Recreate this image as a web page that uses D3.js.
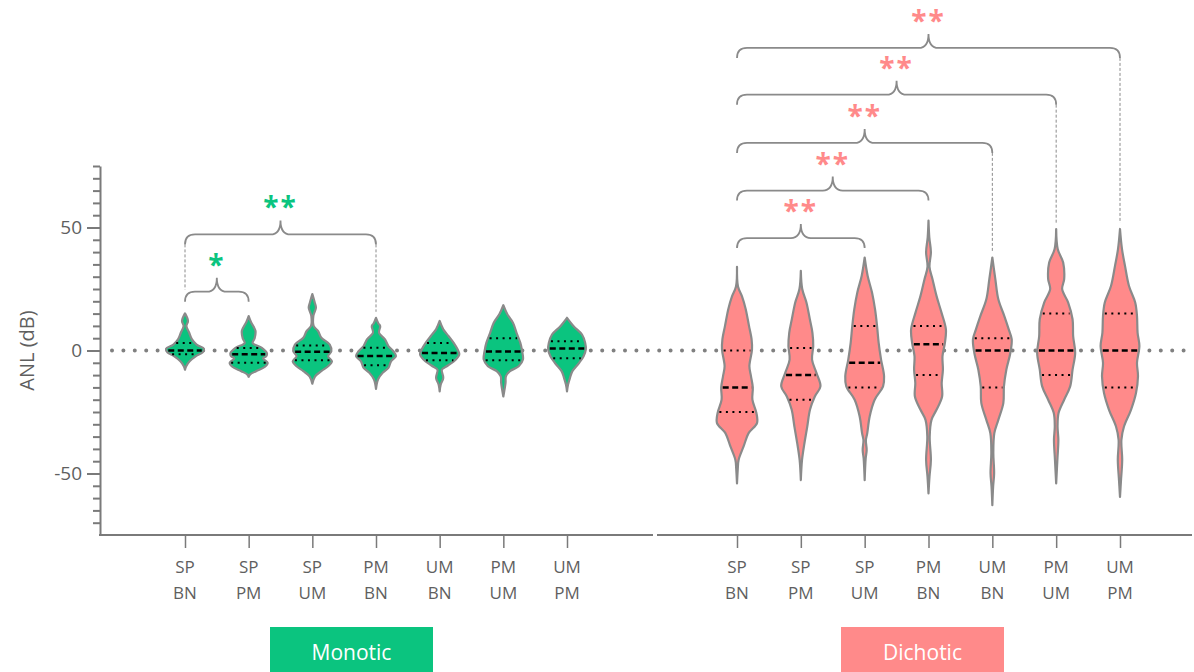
<!DOCTYPE html>
<html>
<head>
<meta charset="utf-8">
<script src="https://cdn.jsdelivr.net/npm/d3@7"></script>
<style>
  body { margin: 0; background: #fff; }
  svg { display: block; font-family: "Open Sans", sans-serif; }
</style>
</head>
<body>
<svg id="chart" width="1194" height="672"></svg>
<script>
// categories (two-line tick labels)
var categories = ["SP BN", "SP PM", "SP UM", "PM BN", "UM BN", "PM UM", "UM PM"];

// violin profiles: [ANL value (dB), relative density]
var monoticProfiles = [
  [[15.1,0],[12,0.15],[9.9,0.07],[7.2,0.21],[4.5,0.35],[2.4,0.58],[0.7,0.95],[-0.8,0.87],[-2.3,0.55],[-4.4,0.23],[-6.4,0.06],[-7.8,0]],
  [[14,0],[11.5,0.12],[8,0.34],[5,0.3],[3,0.2],[1.1,0.66],[-1,0.91],[-2.3,0.88],[-3.3,0.72],[-5,0.95],[-6.7,0.8],[-8.4,0.37],[-9.8,0.06],[-10.7,0]],
  [[22.9,0],[19.5,0.12],[17.4,0.18],[15.4,0.1],[14,0.05],[9.9,0.07],[7.9,0.29],[5.2,0.45],[2.4,0.87],[-0.3,0.95],[-2.3,0.79],[-4.4,0.98],[-6.4,0.79],[-8.4,0.45],[-10.5,0.14],[-13.5,0]],
  [[13.3,0],[11,0.12],[9.9,0.21],[7.2,0.15],[4.5,0.45],[1.8,0.62],[-0.3,0.87],[-2.3,1.0],[-4.4,0.75],[-7.1,0.62],[-9.1,0.33],[-11.8,0.1],[-15.6,0]],
  [[12,0],[8.6,0.18],[5.8,0.45],[3.1,0.7],[0.4,0.9],[-1.6,0.98],[-3.7,0.81],[-6.1,0.41],[-7.8,0.11],[-11.1,0.18],[-13.9,0.05],[-16.6,0]],
  [[18.4,0],[14.7,0.2],[11.3,0.48],[7.2,0.66],[3.1,0.85],[-0.3,0.94],[-3.7,0.98],[-6.4,0.77],[-8.4,0.33],[-10.5,0.13],[-13.2,0.11],[-18.7,0]],
  [[13.3,0],[9.9,0.33],[6.5,0.75],[3.1,0.91],[0.4,0.94],[-2.3,0.83],[-5,0.61],[-8.4,0.27],[-11.1,0.15],[-13.9,0.05],[-16.6,0]]
];
var dichoticProfiles = [
  [[34,0],[26,0.05],[22,0.25],[17,0.43],[10,0.6],[4.5,0.73],[0.4,0.75],[-6.4,0.62],[-10.5,0.7],[-15,0.79],[-20,0.77],[-25.4,0.97],[-29.5,1.0],[-33.6,0.58],[-39,0.33],[-44.5,0.08],[-48,0.04],[-54,0]],
  [[32.4,0],[25,0.07],[19.5,0.28],[12.7,0.45],[7.2,0.58],[1.8,0.62],[-3.7,0.56],[-9.1,0.78],[-14.6,0.98],[-18.7,0.7],[-24,0.46],[-31,0.32],[-37.7,0.18],[-44.5,0.06],[-52.7,0]],
  [[37.8,0],[30.3,0.15],[23.5,0.37],[16.7,0.52],[9.9,0.62],[3.1,0.7],[-3.7,0.82],[-10.5,0.97],[-14.6,0.92],[-20,0.5],[-26.8,0.25],[-33.6,0.13],[-36.5,0.06],[-40.4,0.1],[-44,0.05],[-52.7,0]],
  [[52.8,0],[46,0.04],[40,0.12],[34,0.05],[29,0.2],[22.2,0.4],[15.4,0.65],[8.6,0.87],[3.1,0.82],[-2.3,0.7],[-7.8,0.72],[-13.2,0.66],[-18.7,0.68],[-24.1,0.4],[-28.2,0.15],[-35,0.06],[-44.5,0.12],[-51.3,0.05],[-58.1,0]],
  [[37.8,0],[29,0.15],[20.8,0.3],[14,0.6],[8.6,0.82],[4.5,0.97],[-1,0.9],[-7.8,0.7],[-14.6,0.58],[-21.4,0.55],[-28.2,0.3],[-33.6,0.1],[-41.8,0.05],[-49.9,0.09],[-55.4,0.04],[-62.9,0]],
  [[49.4,0],[41.2,0.08],[35.8,0.35],[29,0.4],[24.9,0.3],[19.5,0.6],[12.7,0.82],[5.8,0.85],[-1,0.95],[-7.8,0.82],[-14.6,0.7],[-20,0.4],[-25.4,0.12],[-30.9,0.07],[-36.3,0.11],[-44.5,0.06],[-54,0]],
  [[49.4,0],[41.2,0.1],[34.4,0.25],[26.2,0.45],[19.5,0.76],[14,0.85],[7.2,0.88],[1.8,0.97],[-5,0.85],[-10.5,0.9],[-17.3,0.8],[-24.1,0.55],[-30.9,0.2],[-36.3,0.07],[-44.5,0.11],[-52.7,0.05],[-59.5,0]]
];

// quartiles: [Q1, median, Q3]
var monoticQuartiles = [[-1.5,0,3],[-5,-1.5,1],[-4,-0.5,2],[-6,-2.2,1.1],[-4,-1,3],[-4,-0.4,5],[-3.1,0.8,3.8]];
var dichoticQuartiles = [[-25,-15,0],[-20,-10,1],[-15,-5,10],[-10,2.5,10],[-15,0,5],[-10,0,15],[-15,0,15]];

// significance brackets: [from, to, label, bracket level (dB), leader lines at [from, to]]
var monoticTests = [
  ["SP BN", "SP PM", "*", 23.9, [false, false]],
  ["SP BN", "PM BN", "**", 47.2, [true, true]]
];
var dichoticTests = [
  ["SP BN", "SP UM", "**", 45.7, [false, false]],
  ["SP BN", "PM BN", "**", 65, [false, false]],
  ["SP BN", "UM BN", "**", 84.4, [false, true]],
  ["SP BN", "PM UM", "**", 104, [false, true]],
  ["SP BN", "UM PM", "**", 123, [false, true]]
];

var yTicksMajor = [-50, 0, 50];
var groupNames = ["Monotic", "Dichotic"];

// colours
var green = "#0bc47f";
var pink = "#ff8a8a";
var grey = "#8a8a8a";
var axisGrey = "#7a7a7a";
var textGrey = "#5f5f5f";

var svg = d3.select("#chart");

// scales
var yScale = d3.scaleLinear().domain([-75, 75]).range([535, 166]);
var xMono = d3.scalePoint().domain(categories).range([185, 567]);
var xDich = d3.scalePoint().domain(categories).range([737, 1120]);
var wScale = d3.scaleLinear().domain([0, 1]).range([0, 20]);

// zero reference line (dotted)
svg.append("line")
  .attr("x1", 112).attr("x2", 1190)
  .attr("y1", yScale(0)).attr("y2", yScale(0))
  .attr("stroke", "#808080")
  .attr("stroke-width", 4)
  .attr("stroke-linecap", "round")
  .attr("stroke-dasharray", "0,11.4");

// y axis: minor + major ticks
var yMinor = d3.axisLeft(yScale)
  .tickValues(d3.range(-70, 76, 5))
  .tickSize(7).tickSizeOuter(0)
  .tickFormat("");
var yMajor = d3.axisLeft(yScale)
  .tickValues(yTicksMajor)
  .tickSize(13).tickSizeOuter(0)
  .tickPadding(5)
  .tickFormat(function(d) { return String(d); });

var gyMinor = svg.append("g").attr("transform", "translate(100,0)").call(yMinor);
var gyMajor = svg.append("g").attr("transform", "translate(100,0)").call(yMajor);
gyMajor.select(".domain").remove();
[gyMinor, gyMajor].forEach(function(g) {
  g.selectAll("line").attr("stroke", axisGrey).attr("stroke-width", 2);
  g.selectAll(".domain").attr("stroke", axisGrey).attr("stroke-width", 2);
});
gyMajor.selectAll("text")
  .attr("fill", textGrey)
  .style("font-size", "19px")
  .style("font-family", "'Open Sans', sans-serif");

svg.append("text")
  .attr("transform", "translate(34," + yScale(0) + ") rotate(-90)")
  .attr("text-anchor", "middle")
  .attr("fill", textGrey)
  .style("font-size", "20px")
  .text("ANL (dB)");

// x axis baselines (broken between groups)
svg.append("line").attr("x1", 99).attr("x2", 653).attr("y1", 535).attr("y2", 535)
  .attr("stroke", axisGrey).attr("stroke-width", 2);
svg.append("line").attr("x1", 657).attr("x2", 1192).attr("y1", 535).attr("y2", 535)
  .attr("stroke", axisGrey).attr("stroke-width", 2);

[xMono, xDich].forEach(function(xs) {
  var g = svg.append("g").attr("transform", "translate(0,535)")
    .call(d3.axisBottom(xs).tickSize(13).tickSizeOuter(0).tickFormat(""));
  g.select(".domain").remove();
  g.selectAll("line").attr("stroke", axisGrey).attr("stroke-width", 1.5);

  var labels = svg.append("g").selectAll("text")
    .data(categories).enter().append("text")
    .attr("x", function(d) { return xs(d); })
    .attr("y", 573)
    .attr("text-anchor", "middle")
    .attr("fill", textGrey)
    .style("font-size", "17px");
  labels.each(function(d) {
    var parts = d.split(" ");
    var t = d3.select(this);
    t.append("tspan").attr("x", xs(d)).attr("dy", 0).text(parts[0]);
    t.append("tspan").attr("x", xs(d)).attr("dy", 26).text(parts[1]);
  });
});

// half width of a violin at a given value
function halfWidthAt(profile, v) {
  for (var i = 0; i < profile.length - 1; i++) {
    var a = profile[i], b = profile[i + 1];
    if (v <= a[0] && v >= b[0]) {
      var t = (a[0] - v) / (a[0] - b[0]);
      return wScale(a[1] + t * (b[1] - a[1]));
    }
  }
  return 0;
}

function drawViolins(xs, profiles, quartiles, fill) {
  var g = svg.append("g");
  profiles.forEach(function(profile, i) {
    var cx = xs(categories[i]);
    var area = d3.area()
      .curve(d3.curveCatmullRom.alpha(0.5))
      .y(function(d) { return yScale(d[0]); })
      .x0(function(d) { return cx - wScale(d[1]); })
      .x1(function(d) { return cx + wScale(d[1]); });
    g.append("path")
      .attr("d", area(profile))
      .attr("fill", fill)
      .attr("stroke", grey)
      .attr("stroke-width", 2.2)
      .attr("stroke-linejoin", "round");

    quartiles[i].forEach(function(q, j) {
      var hw = halfWidthAt(profile, q) - 1.5;
      g.append("line")
        .attr("x1", cx - hw).attr("x2", cx + hw)
        .attr("y1", yScale(q)).attr("y2", yScale(q))
        .attr("stroke", "#000")
        .attr("stroke-width", j === 1 ? 2.5 : 2)
        .attr("stroke-dasharray", j === 1 ? "6,3.5" : "2,4.5");
    });
  });
}

drawViolins(xMono, monoticProfiles, monoticQuartiles, green);
drawViolins(xDich, dichoticProfiles, dichoticQuartiles, pink);

// curly significance brackets
function drawTests(xs, tests, profiles, color) {
  var g = svg.append("g");
  var drop = 10, r = 10, up = 14, r2 = 10;
  tests.forEach(function(t) {
    var x1 = xs(t[0]), x2 = xs(t[1]);
    var y = yScale(t[3]);
    var cx = (x1 + x2) / 2;
    var p = d3.path();
    p.moveTo(x1, y + drop);
    p.quadraticCurveTo(x1, y, x1 + r, y);
    p.lineTo(cx - r2, y);
    p.quadraticCurveTo(cx, y, cx, y - up);
    p.quadraticCurveTo(cx, y, cx + r2, y);
    p.lineTo(x2 - r, y);
    p.quadraticCurveTo(x2, y, x2, y + drop);
    g.append("path").attr("d", p.toString())
      .attr("fill", "none").attr("stroke", grey).attr("stroke-width", 1.8);

    g.append("text")
      .attr("x", cx)
      .attr("y", y - up - 3)
      .attr("text-anchor", "middle")
      .attr("fill", color)
      .style("font-size", "28px")
      .style("font-weight", "bold")
      .style("letter-spacing", "2px")
      .text(t[2]);

    // dashed leaders from bracket ends down to the next mark below
    [t[0], t[1]].forEach(function(c, k) {
      if (!t[4][k]) return;
      var x = xs(c);
      var top = yScale(profiles[categories.indexOf(c)][0][0]) - 6;
      tests.forEach(function(o) {
        if (o !== t && (o[0] === c || o[1] === c) && o[3] < t[3]) {
          top = Math.min(top, yScale(o[3]) - 2);
        }
      });
      g.append("line")
        .attr("x1", x).attr("x2", x)
        .attr("y1", y + drop).attr("y2", top)
        .attr("stroke", grey).attr("stroke-width", 1)
        .attr("stroke-dasharray", "3,2");
    });
  });
}

drawTests(xMono, monoticTests, monoticProfiles, green);
drawTests(xDich, dichoticTests, dichoticProfiles, pink);

// group legend boxes
var legend = svg.append("g").selectAll("g")
  .data(groupNames).enter().append("g");
legend.append("rect")
  .attr("x", function(d, i) { return i === 0 ? 270 : 841; })
  .attr("y", 627).attr("width", 163).attr("height", 50)
  .attr("fill", function(d, i) { return i === 0 ? green : pink; });
legend.append("text")
  .attr("x", function(d, i) { return (i === 0 ? 270 : 841) + 81.5; })
  .attr("y", 660)
  .attr("text-anchor", "middle")
  .attr("fill", "#fff")
  .style("font-size", "21px")
  .text(function(d) { return d; });
</script>
</body>
</html>
